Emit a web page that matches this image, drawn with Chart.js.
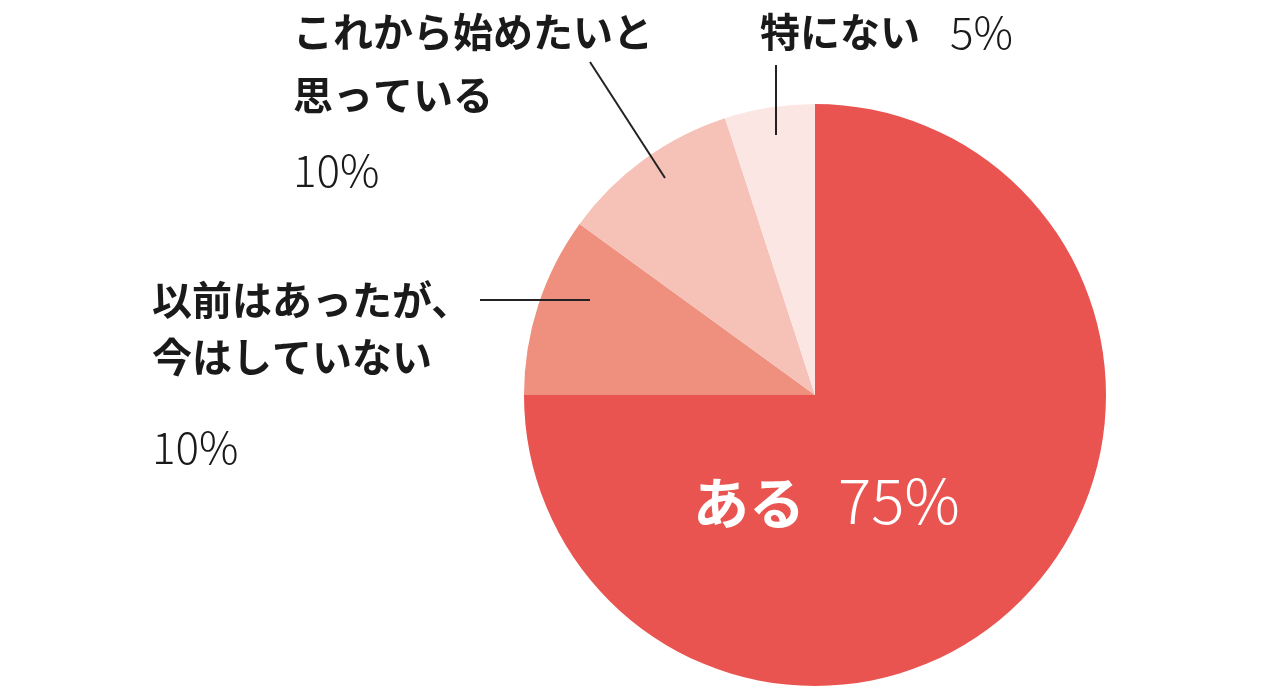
<!DOCTYPE html>
<html><head><meta charset="utf-8">
<script src="https://cdn.jsdelivr.net/npm/chart.js@4"></script>
<style>html,body{margin:0;padding:0;background:#fff}#w{width:1280px;height:689px}</style>
</head><body><div id="w"><canvas id="c"></canvas></div>
<script>
const categories = ["ある", "以前はあったが、今はしていない", "これから始めたいと思っている", "特にない"];
const values = [75, 10, 10, 5];
const colors = ["#E95451", "#EF8F7E", "#F6C1B6", "#FCE6E3"];

const labelsPlugin = {
  id: 'lbl',
  afterDraw(chart) {
    const ctx = chart.ctx;
    ctx.save();
    ctx.strokeStyle = '#222'; ctx.lineWidth = 2;
    [[590,62,665,178],[776,65,776,135],[480,300,590,300]].forEach(l=>{
      ctx.beginPath(); ctx.moveTo(l[0],l[1]); ctx.lineTo(l[2],l[3]); ctx.stroke();
    });
    ctx.textBaseline = 'middle'; ctx.textAlign = 'left';
    const b = 'bold 40px "Noto Sans CJK JP"';
    const n = '300 44px "Noto Sans CJK JP"';
    ctx.fillStyle = '#1a1a1a';
    ctx.font = b; ctx.fillText('これから始めたいと', 293, 32); ctx.fillText('思っている', 293, 95);
    ctx.font = n; ctx.fillText(values[2] + '%', 293, 170);
    ctx.font = b; ctx.fillText('特にない', 760, 32);
    ctx.font = n; ctx.fillText(values[3] + '%', 950, 32);
    ctx.font = b; ctx.fillText('以前はあったが、', 152, 300); ctx.fillText('今はしていない', 152, 357);
    ctx.font = n; ctx.fillText(values[1] + '%', 152, 447);
    ctx.fillStyle = '#fff';
    ctx.font = 'bold 56px "Noto Sans CJK JP"'; ctx.fillText('ある', 693, 503);
    ctx.font = '300 62px "Noto Sans CJK JP"'; ctx.fillText(values[0] + '%', 838, 500);
    ctx.restore();
  }
};

new Chart(document.getElementById('c'), {
  type: 'pie',
  data: { labels: categories, datasets: [{ data: values, backgroundColor: colors, borderWidth: 0 }] },
  options: {
    responsive: true, maintainAspectRatio: false, animation: false,
    layout: { padding: { left: 524, right: 174, top: 104, bottom: 3 } },
    plugins: { legend: { display: false }, tooltip: { enabled: false } }
  },
  plugins: [labelsPlugin]
});
</script></body></html>
